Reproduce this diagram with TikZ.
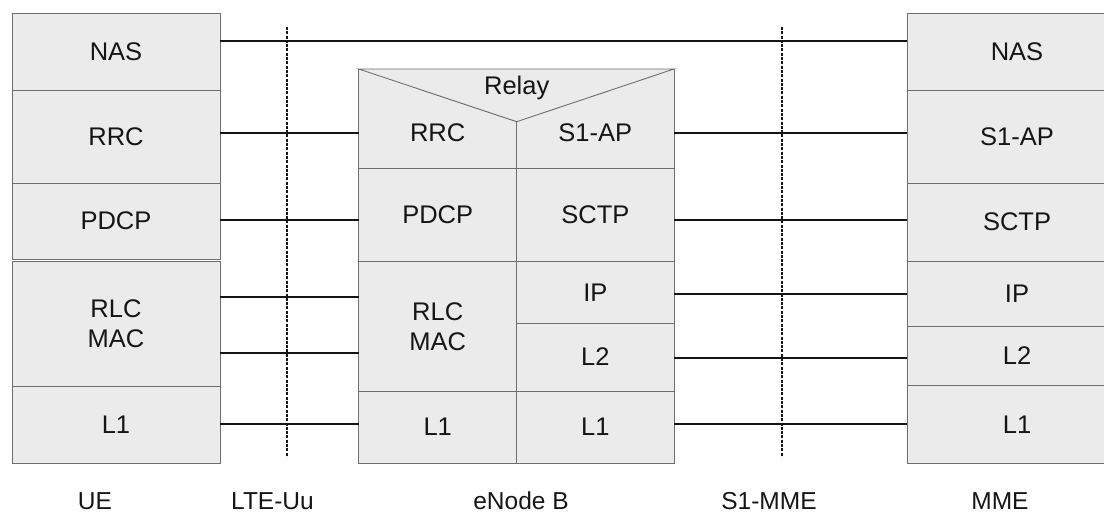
\documentclass[tikz,border=0pt]{standalone}
\usepackage{fontspec}
\setmainfont{Liberation Sans}
\definecolor{boxfill}{HTML}{EBEBEB}
\definecolor{boxline}{HTML}{6E6E6E}
\definecolor{ink}{HTML}{151515}
\begin{document}
\begin{tikzpicture}[x=1pt,y=-1pt,
  layer/.style={draw=boxline, fill=boxfill, line width=0.9pt, anchor=north west,
    inner sep=0pt, outer sep=0pt, align=center, text=ink,
    font=\fontsize{25.5}{30}\selectfont},
  lbl/.style={inner sep=0pt, outer sep=0pt, text=ink, anchor=base,
    font=\fontsize{25.5}{30}\selectfont},
  link/.style={draw=ink, line width=2.2pt},
  iface/.style={draw=ink, line width=2.3pt, dash pattern=on 3pt off 1.3pt},
  caption/.style={inner sep=0pt, outer sep=0pt, text=ink, anchor=base,
    font=\fontsize{24.5}{29}\selectfont}]
\useasboundingbox (0,0) rectangle (1104,513);
\clip (0,0) rectangle (1104,513);

% UE protocol stack
\node[layer, minimum width=208, minimum height=77.7]  (uenas)  at (12,13)    {NAS};
\node[layer, minimum width=208, minimum height=92.3]  (uerrc)  at (12,90.7)  {RRC};
\node[layer, minimum width=208, minimum height=76]    (uepdcp) at (12,183)   {PDCP};
\node[layer, minimum width=208, minimum height=125.7] (uermac) at (12,261)   {RLC\\MAC};
\node[layer, minimum width=208, minimum height=77]    (uel1)   at (12,386.7) {L1};

% eNode B, radio side
\node[layer, minimum width=158, minimum height=99]    (enbrrc)  at (358.7,69)    {};
\node[layer, minimum width=158, minimum height=93.7]  (enbpdcp) at (358.7,168)   {PDCP};
\node[layer, minimum width=158, minimum height=129.3] (enbrmac) at (358.7,261.7) {RLC\\MAC};
\node[layer, minimum width=158, minimum height=72]    (enbl1a)  at (358.7,391)   {L1};
% eNode B, core side
\node[layer, minimum width=157.3, minimum height=99]    (enbs1ap) at (516.7,69)    {};
\node[layer, minimum width=157.3, minimum height=93.7]  (enbsctp) at (516.7,168)   {SCTP};
\node[layer, minimum width=157.3, minimum height=61.3]  (enbip)   at (516.7,261.7) {IP};
\node[layer, minimum width=157.3, minimum height=68]    (enbl2)   at (516.7,323)   {L2};
\node[layer, minimum width=157.3, minimum height=72]    (enbl1b)  at (516.7,391)   {L1};

% relay wedge on top of RRC / S1-AP
\coordinate (apex) at (516.7,121.7);
\filldraw[fill=boxfill, draw=boxline, line width=0.9pt]
  (enbrrc.north west) -- (enbs1ap.north east) -- (apex) -- cycle;
\node[lbl] (relay)     at (516.7,94.5) {Relay};
\node[lbl] (enbrrctxt) at (437.7,142)  {RRC};
\node[lbl] (enbs1atxt) at (595.3,142)  {S1-AP};

% MME protocol stack
\node[layer, minimum width=220, minimum height=77.7] (mmenas)  at (907,13)    {NAS};
\node[layer, minimum width=220, minimum height=92.3] (mmes1ap) at (907,90.7)  {S1-AP};
\node[layer, minimum width=220, minimum height=78.3] (mmesctp) at (907,183)   {SCTP};
\node[layer, minimum width=220, minimum height=64.7] (mmeip)   at (907,261.3) {IP};
\node[layer, minimum width=220, minimum height=59.7] (mmel2)   at (907,326)   {L2};
\node[layer, minimum width=220, minimum height=77.3] (mmel1)   at (907,385.7) {L1};

% reference points
\coordinate (uutop) at (287,27);  \coordinate (uubot) at (287,457);
\coordinate (s1top) at (782,27);  \coordinate (s1bot) at (782,457);
\draw[iface] (uutop) -- (uubot);
\draw[iface] (s1top) -- (s1bot);

% peer links
\draw[link] (uenas.east |- 0,41)    -- (mmenas.west |- 0,41);
\draw[link] (uerrc.east |- 0,133)   -- (enbrrc.west |- 0,133);
\draw[link] (uepdcp.east |- 0,220)  -- (enbpdcp.west |- 0,220);
\draw[link] (uermac.east |- 0,297)  -- (enbrmac.west |- 0,297);
\draw[link] (uermac.east |- 0,353)  -- (enbrmac.west |- 0,353);
\draw[link] (uel1.east |- 0,424)    -- (enbl1a.west |- 0,424);
\draw[link] (enbs1ap.east |- 0,133) -- (mmes1ap.west |- 0,133);
\draw[link] (enbsctp.east |- 0,220) -- (mmesctp.west |- 0,220);
\draw[link] (enbip.east |- 0,293.7) -- (mmeip.west |- 0,293.7);
\draw[link] (enbl2.east |- 0,358)   -- (mmel2.west |- 0,358);
\draw[link] (enbl1b.east |- 0,424)  -- (mmel1.west |- 0,424);

% captions
\node[caption] (labue)   at (95,509.5)    {UE};
\node[caption] (labuu)   at (272.5,509.5) {LTE-Uu};
\node[caption] (labenb)  at (521,509.5)   {eNode B};
\node[caption] (labs1)   at (769,509.5)   {S1-MME};
\node[caption] (labmme)  at (1000,509.5)  {MME};
\end{tikzpicture}
\end{document}
